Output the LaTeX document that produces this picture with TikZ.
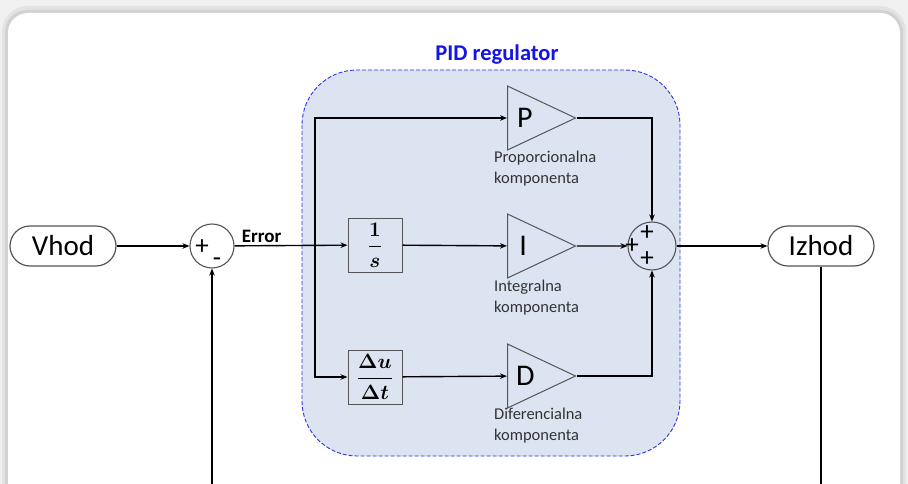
\documentclass[tikz,border=0pt]{standalone}
\usepackage{amsmath,bm}
\usepackage{fontspec}
\setmainfont{Carlito}
\usetikzlibrary{arrows.meta,positioning,calc,shapes.geometric}
\definecolor{pidfill}{RGB}{221,228,241}
\definecolor{pidblue}{RGB}{50,50,225}
\definecolor{titleblue}{RGB}{20,20,230}
\definecolor{edgegray}{RGB}{85,85,85}

\begin{document}
\begin{tikzpicture}[
    x=1pt, y=-1pt,
    every node/.style={
        font=\fontsize{16.5}{21}\selectfont,
    },
    conn/.style={line width=1.4pt, -{Stealth[length=7pt,width=5.5pt]}},
    wire/.style={line width=1.4pt},
    terminal/.style={draw=edgegray, line width=1.2pt, rounded corners=20pt,
        minimum width=106pt, minimum height=40pt, inner sep=0pt,
        font=\fontsize{29}{32}\selectfont},
    sumnode/.style={circle, draw=edgegray, line width=1.1pt, minimum size=44pt, inner sep=0pt},
    gain/.style={isosceles triangle, isosceles triangle stretches, draw=edgegray,
        line width=1pt, minimum width=64pt, minimum height=68pt, inner sep=0pt,
        font=\fontsize{30}{32}\selectfont},
    opbox/.style={rectangle, draw=edgegray, line width=1pt, minimum size=54pt,
        inner sep=0pt, font=\fontsize{21}{25}\selectfont\boldmath},
    comp/.style={anchor=north west, align=left, text=black!80, inner sep=0pt},
    sign/.style={font=\fontsize{27}{27}\selectfont, inner sep=0pt},
]
    \useasboundingbox (0,0) rectangle (908,484);
    \fill[gray!12] (0,0) rectangle (908,484);
    \fill[gray!22, rounded corners=26pt] (2,6) rectangle (906,540);
    \fill[gray!35, rounded corners=22pt] (5,10) rectangle (903,540);
    \fill[white, rounded corners=20pt] (8,13) rectangle (900,540);

    \draw[pidblue, dash pattern=on 4pt off 2pt, line width=0.9pt, fill=pidfill,
        rounded corners=55pt] (302,70) rectangle (680,456);
    \node[text=titleblue, font=\bfseries\fontsize{22.5}{25}\selectfont] (title) at (497,55) {PID regulator};

    \node[terminal] (vhod) at (63,246) {Vhod};
    \node[sumnode] (err) at (212,246) {};
    \node[sign] at (202,247) {+};
    \node[sign] at (217,262) {-};
    \node[opbox] (integ) at (375,245) {$\dfrac{1}{s}$};
    \node[opbox] (deriv) at (375,377) {$\dfrac{\Delta u}{\Delta t}$};
    \node[gain, anchor=west] (kp) at (507,118) {P};
    \node[gain, anchor=west] (ki) at (507,246) {I};
    \node[gain, anchor=west] (kd) at (507,376) {D};
    \node[comp] (kplabel) at (494,151) {Proporcionalna\\komponenta};
    \node[comp] (kilabel) at (494,280) {Integralna\\komponenta};
    \node[comp] (kdlabel) at (494,408) {Diferencialna\\komponenta};
    \node[sumnode, minimum size=48pt] (sum) at (652,246) {};
    \node[sign] at (647,233) {+};
    \node[sign] at (632,246) {+};
    \node[sign] at (647,259) {+};
    \node[terminal] (izhod) at (821,246) {Izhod};

    \coordinate (fb) at (212,486);
    \coordinate (split) at (315,246);
    \coordinate (out) at (821,486);

    \draw[conn] (vhod) -- (err);
    \draw[conn] (fb) -- (err);
    \draw[conn] (err) -- node[above, pos=0.24, inner sep=2pt,
        font=\bfseries\fontsize{19}{21}\selectfont] {Error} (integ);
    \draw[conn] (split) |- (kp);
    \draw[conn] (split) |- (deriv);
    \draw[conn] (integ) -- (ki);
    \draw[conn] (deriv) -- (kd);
    \draw[conn] (kp) -| (sum);
    \draw[conn] (kd) -| (sum);
    \draw[conn] (ki) -- (sum);
    \draw[conn] (sum) -- (izhod);
    \draw[wire] (izhod) -- (out);
\end{tikzpicture}
\end{document}
